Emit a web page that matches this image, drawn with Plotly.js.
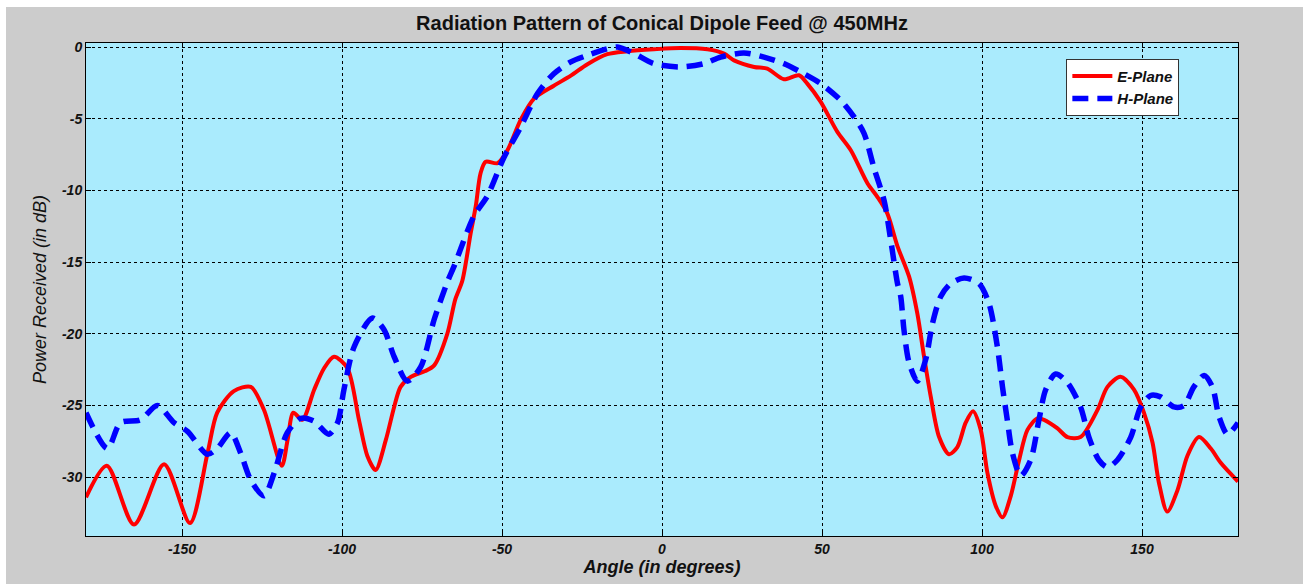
<!DOCTYPE html>
<html>
<head>
<meta charset="utf-8">
<script src="https://cdn.plot.ly/plotly-3.0.1.min.js"></script>
<style>
  html, body { margin: 0; padding: 0; background: #ffffff; }
  #chart { position: absolute; left: 6px; top: 7px; width: 1297px; height: 577px; }
</style>
</head>
<body>
<div id="chart"></div>
<script>
// E-Plane (red, solid)
const eAngle = [-180, -173.5, -165, -155.6, -147.5, -142, -139, -133.8, -128.5, -124.4, -118.8, -117, -115.2, -112.4, -108.7, -105.6, -102.5, -98.3, -94.7, -92.1, -89.5, -86.3, -83.7, -81.7, -78.5, -74, -71.2, -67.1, -64.6, -62.4, -59.8, -58.2, -56.7, -55.1, -51.4, -48.3, -44.2, -40, -33.8, -28.5, -23.3, -17.1, -10.8, -2.5, 5.8, 14.2, 19.4, 22.5, 28.8, 32.9, 38.1, 42.8, 45.4, 49.6, 54.8, 59, 64.2, 67.3, 70.4, 73.6, 77.2, 79.8, 81.9, 84, 86.6, 89.7, 92.3, 94.9, 97.2, 99.6, 101.7, 104.3, 106.4, 109, 111.6, 114.2, 117.3, 119.4, 123.6, 126.7, 130.8, 136.1, 139.2, 143.3, 147.5, 150.6, 153.3, 155.3, 157.9, 161.1, 164.2, 167.8, 171.5, 174.6, 180];
const ePower = [-31.4, -29.2, -33.3, -29.1, -33.2, -28.3, -25.5, -24.0, -23.7, -25.3, -29.2, -27.4, -25.5, -26.0, -23.9, -22.4, -21.6, -22.4, -26.0, -28.5, -29.5, -27.4, -25.1, -23.7, -23.0, -22.6, -22.2, -20.0, -17.6, -16.3, -13.0, -11.1, -8.8, -8.0, -8.1, -7.2, -5.1, -3.6, -2.7, -2.0, -1.2, -0.5, -0.3, -0.16, -0.07, -0.16, -0.46, -0.93, -1.39, -1.51, -2.25, -1.97, -2.55, -3.83, -5.92, -7.2, -9.5, -10.45, -11.6, -13.9, -16.0, -18.6, -21.6, -24.4, -27.2, -28.4, -27.9, -26.2, -25.4, -26.7, -29.7, -32.0, -32.8, -31.3, -28.8, -26.7, -25.9, -26.0, -26.6, -27.2, -27.2, -25.3, -23.7, -23.0, -23.9, -25.5, -27.6, -30.4, -32.4, -30.9, -28.5, -27.2, -28.0, -29.0, -30.3];

// H-Plane (blue, dashed)
const hAngle = [-180, -173.3, -169.2, -163, -157.7, -152.5, -148.3, -142.1, -139, -134.8, -131.7, -128.5, -124.4, -121.2, -117.1, -112.9, -108.7, -104.1, -101.4, -99.4, -96.2, -90.5, -86.9, -83.7, -79.6, -75.4, -71.2, -67.1, -65, -58.8, -54.6, -49.4, -44.2, -38.9, -33.8, -28.5, -23.3, -17.1, -13.9, -8.7, -2.5, 5.8, 13.1, 18.3, 25.6, 31.9, 38.1, 43.3, 49.6, 55.8, 60, 63.1, 66.2, 69.4, 71.5, 73.6, 74.6, 75.6, 77.2, 79.8, 82.4, 84.5, 87.1, 90.2, 94.4, 99.1, 102.2, 104.8, 106.4, 107.9, 109.5, 112.1, 115.2, 117.8, 119.9, 123, 126.7, 130.8, 133.4, 136.5, 139.2, 142.3, 146.5, 149.6, 152.7, 155.8, 160, 163.1, 166.2, 169.4, 172, 174.1, 176.7, 180];
const hPower = [-25.5, -28.0, -26.2, -26.0, -25.0, -26.2, -26.8, -28.4, -28.0, -26.9, -28.3, -30.2, -31.3, -29.7, -26.9, -25.9, -26.1, -27.0, -26.2, -23.9, -20.9, -18.9, -19.7, -21.6, -23.3, -22.3, -19.0, -16.4, -15.3, -11.8, -10.4, -7.7, -5.6, -3.25, -1.86, -1.04, -0.58, -0.12, 0.0, -0.46, -1.16, -1.39, -1.16, -0.7, -0.42, -0.7, -1.16, -1.74, -2.55, -3.71, -4.87, -6.0, -8.4, -10.7, -13.5, -16.5, -17.4, -19.7, -22.0, -23.3, -21.8, -19.3, -17.4, -16.5, -16.1, -16.5, -17.9, -20.9, -23.7, -26.0, -28.3, -29.9, -28.8, -26.0, -23.9, -22.8, -23.4, -25.1, -27.2, -28.8, -29.3, -28.8, -27.2, -25.1, -24.3, -24.4, -25.1, -25.0, -23.7, -22.9, -23.7, -25.8, -27.0, -26.2];

const xTickVals = [-150, -100, -50, 0, 50, 100, 150];
const xTickText = ["-150", "-100", "-50", "0", "50", "100", "150"];
const yTickVals = [0, -5, -10, -15, -20, -25, -30];
const yTickText = ["0", "-5", "-10", "-15", "-20", "-25", "-30"];

const FONT = "'Liberation Sans', Arial, sans-serif";

const traces = [
  {
    x: eAngle, y: ePower, name: "<i>E-Plane</i>", mode: "lines", type: "scatter",
    line: { color: "#ff0000", width: 4, shape: "spline", smoothing: 0.8 }
  },
  {
    x: hAngle, y: hPower, name: "<i>H-Plane</i>", mode: "lines", type: "scatter",
    line: { color: "#0000ff", width: 5.5, dash: "16px,9px", shape: "spline", smoothing: 0.8 }
  }
];

const axisCommon = {
  showline: true, linecolor: "#000000", linewidth: 1, mirror: "ticks",
  ticks: "inside", ticklen: 5, tickcolor: "#000000",
  showgrid: true, gridcolor: "#000000", gridwidth: 1, griddash: "3px,3px",
  zeroline: false,
  tickfont: { family: FONT, size: 14, color: "#111111", weight: "bold", style: "italic" }
};

const layout = {
  width: 1297, height: 577,
  paper_bgcolor: "#cccccc", plot_bgcolor: "#aaebfd",
  margin: { l: 80, r: 65, t: 36, b: 48, pad: 0 },
  title: {
    text: "<b>Radiation Pattern of Conical Dipole Feed @ 450MHz</b>",
    font: { family: FONT, size: 20, color: "#111111" },
    x: 0.5, xref: "paper", y: 0.972, yref: "container", yanchor: "middle"
  },
  xaxis: Object.assign({}, axisCommon, {
    range: [-180, 180], tickvals: xTickVals, ticktext: xTickText,
    title: { text: "<b><i>Angle (in degrees)</i></b>", font: { family: FONT, size: 18, color: "#111111" }, standoff: 2 }
  }),
  yaxis: Object.assign({}, axisCommon, {
    range: [-34.1, 0.28], tickvals: yTickVals, ticktext: yTickText,
    title: { text: "<i>Power Received (in dB)</i>", font: { family: FONT, size: 18, color: "#111111" }, standoff: 10 }
  }),
  showlegend: true,
  legend: {
    x: 0.851, y: 0.968, xanchor: "left", yanchor: "top",
    bgcolor: "#ffffff", bordercolor: "#333333", borderwidth: 1,
    font: { family: FONT, size: 15, color: "#111111", weight: "bold" },
    tracegroupgap: 0, itemwidth: 40
  }
};

Plotly.newPlot("chart", traces, layout, { displayModeBar: false, staticPlot: true });
</script>
</body>
</html>
